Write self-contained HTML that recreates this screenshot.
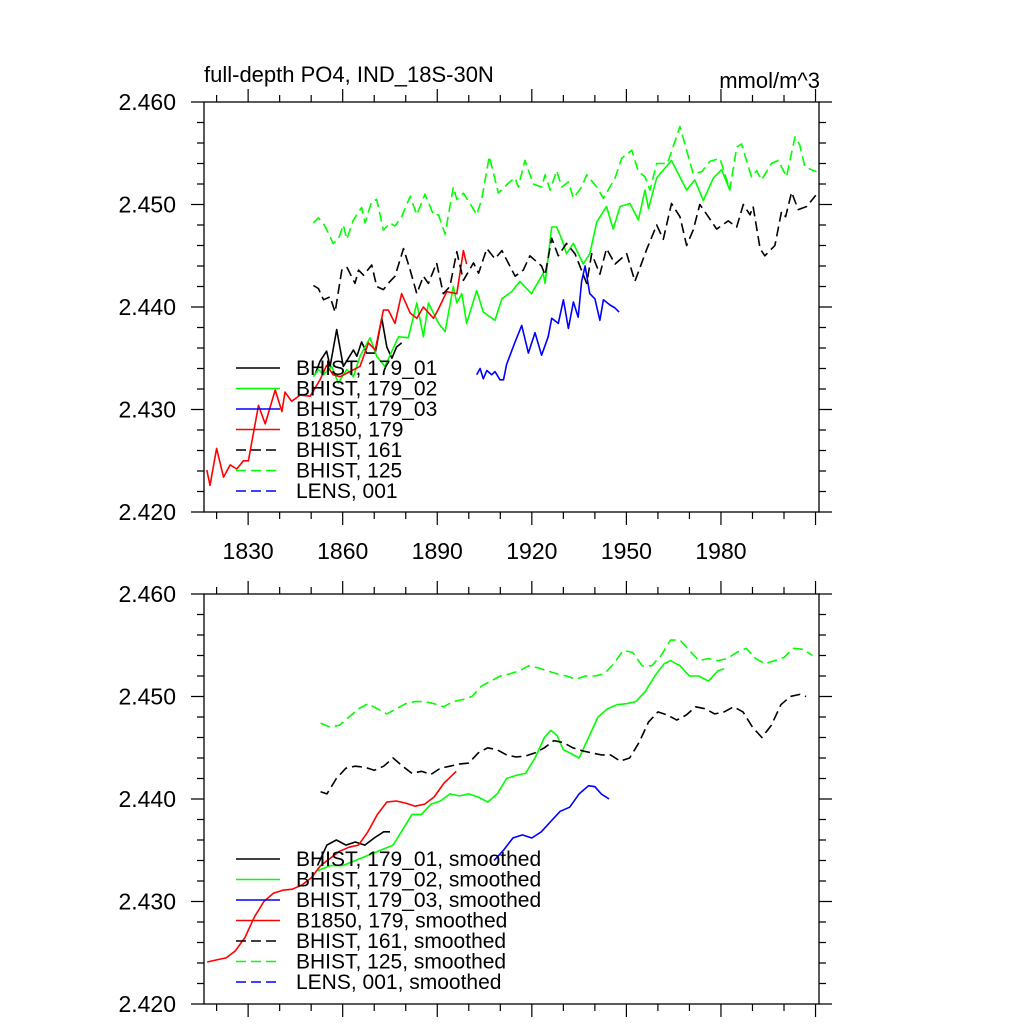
<!DOCTYPE html>
<html><head><meta charset="utf-8"><style>
html,body{margin:0;padding:0;background:#fff}
svg{display:block;font-family:"Liberation Sans",sans-serif}
</style></head><body>
<svg id="chart" width="1024" height="1024" xmlns="http://www.w3.org/2000/svg">
<text x="204" y="82" font-size="22">full-depth PO4, IND_18S-30N</text>
<text x="820" y="88" font-size="22" text-anchor="end">mmol/m^3</text>
</svg>
<script>
const xTicks=[1830,1860,1890,1920,1950,1980];
const yTicks=[2.420,2.430,2.440,2.450,2.460];
// top raw series [year,value]
const red=[[1816.9,2.4241],[1817.9,2.4226],[1820,2.4262],[1822.2,2.4234],[1824.3,2.4246],[1826.4,2.4242],[1828.5,2.4250],[1830.1,2.4250],[1833.3,2.4304],[1835.4,2.4286],[1838.6,2.4319],[1840.7,2.4298],[1841.7,2.4317],[1843.8,2.4308],[1846.5,2.4314],[1849.7,2.4313],[1852.8,2.4329],[1854.9,2.4343],[1857,2.4334],[1859.2,2.4332],[1862.3,2.4337],[1865.5,2.4342],[1868.2,2.4365],[1870.3,2.4358],[1872.9,2.4397],[1874.5,2.4397],[1876.6,2.4384],[1878.7,2.4413],[1881.4,2.4394],[1883.5,2.4389],[1885.6,2.4400],[1888.8,2.4389],[1890.4,2.4398],[1893,2.4415],[1896.2,2.4413],[1898.3,2.4455],[1899.3,2.4442]];
const black1=[[1851.2,2.4334],[1852.8,2.4347],[1854.9,2.4357],[1856,2.4342],[1858.1,2.4378],[1860.2,2.4342],[1861.8,2.4350],[1863.4,2.4358],[1864.5,2.4352],[1866,2.4366],[1867.6,2.4355],[1870.3,2.4355],[1872.4,2.4389],[1874,2.4361],[1875.6,2.4350],[1877.1,2.4361],[1878.7,2.4365]];
const green2=[[1850.7,2.4332],[1852.3,2.4339],[1853.9,2.4334],[1856.5,2.4342],[1858.6,2.4326],[1861.3,2.4339],[1863.4,2.4332],[1865.5,2.4352],[1868.7,2.4370],[1870.8,2.4352],[1873.4,2.4342],[1877.7,2.4371],[1880.8,2.4370],[1883.5,2.4404],[1885.6,2.4371],[1887.2,2.4404],[1890.4,2.4384],[1892.5,2.4376],[1895.1,2.4420],[1896.2,2.4404],[1897.8,2.4413],[1899.3,2.4384],[1902.5,2.4416],[1904.6,2.4395],[1908.3,2.4387],[1910.5,2.4408],[1913.6,2.4415],[1916.2,2.4425],[1919.9,2.4413],[1923.6,2.4433],[1924.2,2.4423],[1926.3,2.4478],[1927.9,2.4478],[1929.5,2.4466],[1931,2.4452],[1933.2,2.4462],[1936.3,2.4442],[1938.4,2.4452],[1940.6,2.4483],[1943.7,2.4498],[1945.8,2.4476],[1948,2.4498],[1951.1,2.4501],[1953.8,2.4485],[1955.9,2.4514],[1957,2.4496],[1959.6,2.4526],[1964.3,2.4543],[1969.1,2.4514],[1971.7,2.4524],[1974.4,2.4504],[1977.6,2.4526],[1980.2,2.4534],[1982.8,2.4514]];
const blue3=[[1902.5,2.4334],[1903.6,2.4340],[1904.6,2.4330],[1905.7,2.4338],[1907.3,2.4334],[1908.3,2.4337],[1909.9,2.4329],[1911,2.4329],[1912,2.4344],[1914.7,2.4366],[1916.8,2.4382],[1918.9,2.4355],[1921,2.4375],[1923.1,2.4353],[1925.2,2.4371],[1926.3,2.4389],[1928.4,2.4384],[1930,2.4407],[1931.6,2.4379],[1933.2,2.4405],[1934.7,2.4390],[1935.8,2.4425],[1936.9,2.4440],[1938.4,2.4413],[1940,2.4408],[1941.6,2.4387],[1942.7,2.4407],[1944.8,2.4402],[1946.4,2.4399],[1947.7,2.4395]];
const black161=[[1850.7,2.4421],[1852.3,2.4418],[1853.9,2.4407],[1856,2.4410],[1857.6,2.4395],[1859.7,2.4436],[1861.3,2.4439],[1863.9,2.4423],[1865,2.4436],[1866.6,2.4431],[1869.2,2.4441],[1870.8,2.4420],[1872.9,2.4417],[1875,2.4425],[1876.6,2.4430],[1879.3,2.4457],[1881.4,2.4436],[1883.5,2.4413],[1885.6,2.4430],[1887.2,2.4423],[1889.8,2.4443],[1891.9,2.4413],[1894,2.4420],[1896.2,2.4454],[1898.3,2.4426],[1901.5,2.4443],[1903.1,2.4433],[1905.7,2.4457],[1908.3,2.4447],[1910.5,2.4455],[1914.7,2.4430],[1917.3,2.4436],[1919.4,2.4450],[1923.1,2.4440],[1924.2,2.4431],[1926.3,2.4467],[1928.4,2.4450],[1931,2.4462],[1933.7,2.4452],[1937.4,2.4423],[1939,2.4452],[1941.6,2.4432],[1943.7,2.4457],[1946.4,2.4442],[1950.1,2.4452],[1952.7,2.4425],[1956.4,2.4456],[1959.6,2.4480],[1961.7,2.4466],[1964.3,2.4501],[1967,2.4488],[1969.1,2.4460],[1971.2,2.4475],[1973.3,2.4500],[1976,2.4488],[1978.6,2.4476],[1982.3,2.4484],[1985,2.4478],[1987.1,2.4500],[1989.2,2.4490],[1990.2,2.4498],[1992.4,2.4457],[1993.9,2.4450],[1997.1,2.4460],[1999.2,2.4493],[2000.5,2.4488],[2002.4,2.4512],[2004.5,2.4495],[2007.2,2.4498],[2010.1,2.4509]];
const green125=[[1850.7,2.4482],[1852.3,2.4487],[1854.4,2.4479],[1857,2.4462],[1858.6,2.4466],[1860.2,2.4480],[1861.3,2.4466],[1863.4,2.4485],[1866,2.4497],[1867.1,2.4482],[1869.2,2.4503],[1870.8,2.4505],[1872.9,2.4475],[1875,2.4482],[1876.6,2.4479],[1878.7,2.4488],[1881.4,2.4508],[1883.5,2.4490],[1886.1,2.4510],[1888.8,2.4490],[1890.4,2.4490],[1892.5,2.4471],[1895.1,2.4517],[1896.2,2.4505],[1898.3,2.4511],[1900.4,2.4501],[1902.5,2.4490],[1904.1,2.4505],[1906.5,2.4547],[1909.4,2.4511],[1912.6,2.4521],[1914.7,2.4526],[1915.7,2.4517],[1917.8,2.4543],[1920.5,2.4520],[1923.1,2.4517],[1924.2,2.4529],[1925.8,2.4514],[1927.9,2.4533],[1929.5,2.4517],[1931.6,2.4522],[1933.2,2.4506],[1935.8,2.4517],[1937.4,2.4529],[1940.6,2.4517],[1942.7,2.4506],[1946.4,2.4526],[1948.5,2.4545],[1951.7,2.4553],[1953.8,2.4532],[1955.9,2.4527],[1957.5,2.4514],[1959.6,2.4540],[1963,2.4540],[1967,2.4576],[1969.1,2.4553],[1971.2,2.4530],[1973.9,2.4532],[1976.5,2.4542],[1979.7,2.4545],[1982.8,2.4514],[1985,2.4556],[1986.5,2.4559],[1989.7,2.4527],[1991.3,2.4533],[1992.9,2.4524],[1996,2.4540],[1998.2,2.4543],[2000.8,2.4527],[2003.5,2.4566],[2005,2.4558],[2006.6,2.4537],[2008.7,2.4534],[2010.3,2.4532]];
// bottom smoothed
const redS=[[1817,2.4241],[1820,2.4243],[1823,2.4245],[1826,2.4252],[1829,2.4265],[1832,2.4285],[1835,2.4300],[1838,2.4308],[1841,2.4311],[1844,2.4312],[1847,2.4316],[1850,2.4323],[1853,2.4335],[1856,2.4342],[1859,2.4349],[1862,2.4353],[1865,2.4355],[1868,2.4368],[1871,2.4385],[1874,2.4397],[1877,2.4398],[1880,2.4396],[1883,2.4393],[1886,2.4395],[1889,2.4402],[1892,2.4415],[1896,2.4427]];
const black1S=[[1852,2.4335],[1855,2.4355],[1858,2.4360],[1861,2.4355],[1864,2.4358],[1867,2.4355],[1870,2.4362],[1873,2.4368],[1875,2.4368]];
const green2S=[[1852,2.4330],[1856,2.4335],[1860,2.4335],[1864,2.4340],[1868,2.4345],[1872,2.4350],[1876,2.4355],[1879,2.4370],[1882,2.4385],[1885,2.4385],[1888,2.4395],[1891,2.4398],[1894,2.4405],[1897,2.4403],[1900,2.4405],[1903,2.4402],[1906,2.4397],[1909,2.4405],[1912,2.4420],[1915,2.4423],[1918,2.4425],[1921,2.4440],[1924,2.4460],[1926,2.4467],[1928,2.4462],[1930,2.4448],[1932,2.4445],[1935,2.4440],[1938,2.4460],[1941,2.4480],[1944,2.4488],[1947,2.4492],[1950,2.4493],[1953,2.4495],[1956,2.4505],[1959,2.4520],[1962,2.4532],[1964,2.4535],[1967,2.4530],[1970,2.4520],[1973,2.4520],[1976,2.4515],[1979,2.4525],[1981,2.4527]];
const blue3S=[[1908,2.4340],[1911,2.4350],[1914,2.4362],[1917,2.4365],[1920,2.4362],[1923,2.4368],[1926,2.4378],[1929,2.4388],[1932,2.4392],[1935,2.4405],[1938,2.4413],[1940,2.4412],[1942,2.4405],[1944.5,2.4400]];
const black161S=[[1853,2.4407],[1855,2.4405],[1858,2.4420],[1861,2.4430],[1864,2.4432],[1867,2.4431],[1870,2.4428],[1873,2.4432],[1876,2.4440],[1879,2.4432],[1882,2.4425],[1885,2.4427],[1888,2.4424],[1891,2.4430],[1894,2.4432],[1897,2.4434],[1900,2.4435],[1903,2.4445],[1906,2.4450],[1909,2.4448],[1912,2.4443],[1915,2.4441],[1918,2.4442],[1921,2.4445],[1924,2.4450],[1927,2.4457],[1930,2.4455],[1933,2.4450],[1936,2.4447],[1939,2.4445],[1942,2.4443],[1945,2.4443],[1948,2.4437],[1951,2.4440],[1954,2.4455],[1957,2.4475],[1960,2.4485],[1963,2.4482],[1966,2.4477],[1969,2.4482],[1972,2.4490],[1975,2.4488],[1978,2.4483],[1981,2.4485],[1984,2.4490],[1987,2.4485],[1990,2.4470],[1993,2.4460],[1996,2.4472],[1999,2.4492],[2002,2.4500],[2005,2.4502],[2007,2.4500]];
const green125S=[[1853,2.4474],[1856,2.4470],[1859,2.4472],[1862,2.4480],[1865,2.4488],[1868,2.4493],[1871,2.4488],[1874,2.4483],[1877,2.4488],[1880,2.4493],[1883,2.4495],[1886,2.4495],[1889,2.4493],[1892,2.4490],[1895,2.4495],[1898,2.4497],[1901,2.4500],[1904,2.4510],[1907,2.4515],[1910,2.4520],[1913,2.4522],[1916,2.4525],[1919,2.4530],[1922,2.4528],[1925,2.4525],[1928,2.4522],[1931,2.4520],[1934,2.4517],[1937,2.4520],[1940,2.4520],[1943,2.4522],[1946,2.4532],[1949,2.4545],[1952,2.4543],[1955,2.4530],[1958,2.4530],[1961,2.4540],[1964,2.4555],[1967,2.4555],[1970,2.4545],[1973,2.4535],[1976,2.4537],[1979,2.4535],[1982,2.4537],[1985,2.4543],[1988,2.4547],[1991,2.4537],[1994,2.4532],[1997,2.4535],[2000,2.4538],[2003,2.4547],[2006,2.4546],[2009,2.4540]];
const legendTop=["BHIST, 179_01","BHIST, 179_02","BHIST, 179_03","B1850, 179","BHIST, 161","BHIST, 125","LENS, 001"];
const legendBot=["BHIST, 179_01, smoothed","BHIST, 179_02, smoothed","BHIST, 179_03, smoothed","B1850, 179, smoothed","BHIST, 161, smoothed","BHIST, 125, smoothed","LENS, 001, smoothed"];

const NS="http://www.w3.org/2000/svg";
const svg=document.getElementById('chart');
const X0=204,X1=819,XMIN=1816,XMAX=2011.1;
const colors=['#000','#0f0','#00f','#f00','#000','#0f0','#00f'];
const dashed=[false,false,false,false,true,true,true];
function sx(v){return X0+(v-XMIN)/(XMAX-XMIN)*(X1-X0);}
function mk(tag,at){const e=document.createElementNS(NS,tag);for(const k in at)e.setAttribute(k,at[k]);svg.appendChild(e);return e;}
function panel(top,name,series,labels,legY,showX){
  const bot=top+410;
  const sy=v=>bot-(v-2.420)/0.040*(bot-top);
  const box=mk('rect',{x:X0,y:top,width:X1-X0,height:bot-top,fill:'none',stroke:'#000','stroke-width':1.3});
  
  
  let d='';
  for(let v=2.420;v<=2.4601;v+=0.002){const y=sy(v);const maj=Math.abs(Math.round(v*1000)%10)<0.5;const L=maj?13:7;d+=`M${X0-L},${y}H${X0}M${X1},${y}H${X1+L}`;}
  for(let yr=1820;yr<=2010;yr+=10){const x=sx(yr);const L=(yr%30===0)?13:7;d+=`M${x},${top-L}V${top}M${x},${bot}V${bot+L}`;}
  const t=mk('path',{d:d,stroke:'#000','stroke-width':1.2,fill:'none'});
  
  
  yTicks.forEach(v=>{const e=mk('text',{x:176,y:sy(v)+8,'font-size':23,'text-anchor':'end'});e.textContent=v.toFixed(3);
    
    });
  if(showX) xTicks.forEach(v=>{const e=mk('text',{x:sx(v),y:bot+47,'font-size':23,'text-anchor':'middle'});e.textContent=v;
    
    });
  series.forEach((s,i)=>{if(!s)return;
    const p=mk('polyline',{points:s.map(q=>sx(q[0]).toFixed(1)+','+sy(q[1]).toFixed(1)).join(' '),fill:'none',stroke:colors[i],'stroke-width':1.6,'stroke-linejoin':'round'});
    if(dashed[i])p.setAttribute('stroke-dasharray','10 5');
    
    });
  labels.forEach((l,i)=>{const y=legY+i*20.5;
    const ln=mk('line',{x1:236,x2:280,y1:y,y2:y,stroke:colors[i],'stroke-width':1.4});
    if(dashed[i])ln.setAttribute('stroke-dasharray','10 5');
    
    
    const tx=mk('text',{x:296,y:y+7,'font-size':21});tx.textContent=l;
    
    });
}
panel(102,'top-panel',[black1,green2,blue3,red,black161,green125,null],legendTop,368,true);
panel(594,'bottom-panel',[black1S,green2S,blue3S,redS,black161S,green125S,null],legendBot,859,false);
</script>
</body></html>
